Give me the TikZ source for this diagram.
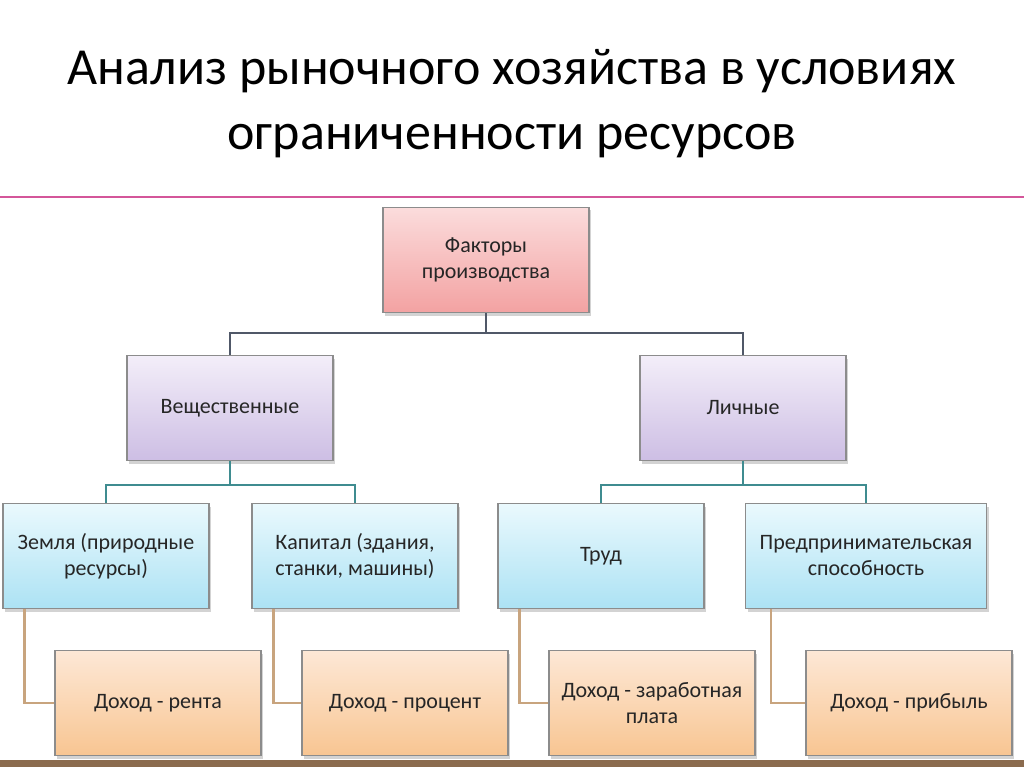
\documentclass[tikz,border=0pt]{standalone}
\usepackage{fontspec}
\setmainfont{Carlito}
\usepackage{tikz}
\usetikzlibrary{shadows}
\usetikzlibrary{positioning}
\definecolor{rulepink}{HTML}{D4569A}
\definecolor{boxline}{HTML}{8C8C8C}
\definecolor{linkgray}{HTML}{505868}
\definecolor{linkteal}{HTML}{3F8C90}
\definecolor{linktan}{HTML}{C8A47E}
\definecolor{wood}{HTML}{8B6B4E}
\definecolor{pinktop}{HTML}{FBDCDC}
\definecolor{pinkbot}{HTML}{F3A2A2}
\definecolor{lilactop}{HTML}{F3EEF9}
\definecolor{lilacbot}{HTML}{CDBEE4}
\definecolor{bluetop}{HTML}{EAF9FD}
\definecolor{bluebot}{HTML}{ACE2F4}
\definecolor{peachtop}{HTML}{FDE8D6}
\definecolor{peachbot}{HTML}{F8C592}
\tikzstyle{box}=[draw=boxline,line width=1.2pt,rectangle,align=center,text=black!85,
  minimum width=206pt,minimum height=105pt,inner sep=2pt,font=\fontsize{22}{26}\selectfont,
  drop shadow={shadow xshift=2pt,shadow yshift=-3pt,opacity=0.35}]
\tikzstyle{factor}=[box,top color=pinktop,bottom color=pinkbot]
\tikzstyle{kind}=[box,top color=lilactop,bottom color=lilacbot]
\tikzstyle{res}=[box,top color=bluetop,bottom color=bluebot]
\tikzstyle{income}=[box,top color=peachtop,bottom color=peachbot]
\tikzstyle{linkA}=[draw,line width=2.2pt,linkgray]
\tikzstyle{linkB}=[draw,line width=2.2pt,linkteal]
\tikzstyle{linkC}=[draw,line width=2.2pt,linktan]

\begin{document}
\begin{tikzpicture}[x=1pt,y=-1pt]
\useasboundingbox (0,0) rectangle (1024,767);

	\node[anchor=base,font=\fontsize{52}{52}\selectfont] (t1) at (512,85)
	{Анализ рыночного хозяйства в условиях};
	\node[anchor=base,font=\fontsize{52}{52}\selectfont] (t2) at (512,150)
	{ограниченности ресурсов};
	\coordinate (rl) at (0,197);
	\coordinate (rr) at (1024,197);
	\draw[rulepink,line width=2pt] (rl) -- (rr);

	\node[factor] (fak) at (486,260) {Факторы\\производства};

	\node[kind] (ves) at (230,408) {Вещественные};
	\node[kind] (lic) at (743,408) {Личные};

	\node[res] (zem) at (106,556) {Земля (природные\\ресурсы)};
	\node[res] (kap) at (355,556) {Капитал (здания,\\станки, машины)};
	\node[res] (tru) at (601,556) {Труд};
	\node[res,minimum width=241pt] (pre) at (866,556) {Предпринимательская\\способность};

	\node[income] (ren) at (158,703) {Доход - рента};
	\node[income] (pro) at (405,703) {Доход - процент};
	\node[income] (zar) at (652,703) {Доход - заработная\\плата};
	\node[income] (pri) at (909,703) {Доход - прибыль};

	\path[linkA] (fak.south) -- ++(0,20) -| (ves.north);
	\path[linkA] (fak.south) -- ++(0,20) -| (lic.north);

	\path[linkB] (ves.south) -- ++(0,24) -| (zem.north);
	\path[linkB] (ves.south) -- ++(0,24) -| (kap.north);
	\path[linkB] (lic.south) -- ++(0,24) -| (tru.north);
	\path[linkB] (lic.south) -- ++(0,24) -| (pre.north);

	\path[linkC] ([xshift=22pt]zem.south west) |- (ren.west);
	\path[linkC] ([xshift=22pt]kap.south west) |- (pro.west);
	\path[linkC] ([xshift=22pt]tru.south west) |- (zar.west);
	\path[linkC] ([xshift=26pt]pre.south west) |- (pri.west);

	\fill[wood] (0,760) rectangle (1024,767);
\end{tikzpicture}
\end{document}
